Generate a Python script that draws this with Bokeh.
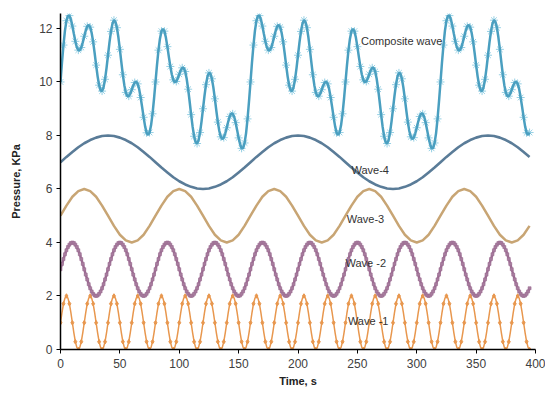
import numpy as np
from bokeh.plotting import figure
from bokeh.models import Range1d, Label, FixedTicker
from bokeh.embed import file_html
from bokeh.resources import INLINE

# ---------------- data ----------------
t_end = 395.0

# Wave-1: one cycle (20 s), sampled every 1.25 s
wave1_step = 1.25
wave1_cycle = [1.0, 1.38, 1.71, 1.92, 2.0, 1.92, 1.71, 1.38,
               1.0, 0.62, 0.29, 0.08, 0.0, 0.08, 0.29, 0.62]

# Wave-2: one cycle (40 s), sampled every 1.25 s
wave2_step = 1.25
wave2_cycle = [3.0, 3.2, 3.38, 3.56, 3.71, 3.83, 3.92, 3.98,
               4.0, 3.98, 3.92, 3.83, 3.71, 3.56, 3.38, 3.2,
               3.0, 2.8, 2.62, 2.44, 2.29, 2.17, 2.08, 2.02,
               2.0, 2.02, 2.08, 2.17, 2.29, 2.44, 2.62, 2.8]

# Wave-3: one cycle (80 s), sampled every 5 s
wave3_step = 5.0
wave3_cycle = [5.0, 5.38, 5.71, 5.92, 6.0, 5.92, 5.71, 5.38,
               5.0, 4.62, 4.29, 4.08, 4.0, 4.08, 4.29, 4.62]

# Wave-4: one cycle (160 s), sampled every 5 s
wave4_step = 5.0
wave4_cycle = [7.0, 7.2, 7.38, 7.56, 7.71, 7.83, 7.92, 7.98,
               8.0, 7.98, 7.92, 7.83, 7.71, 7.56, 7.38, 7.2,
               7.0, 6.8, 6.62, 6.44, 6.29, 6.17, 6.08, 6.02,
               6.0, 6.02, 6.08, 6.17, 6.29, 6.44, 6.62, 6.8]

# Composite wave: one cycle (160 s), sampled every 1.25 s
comp_step = 1.25
comp_cycle = [10.0, 10.73, 11.38, 11.92, 12.29, 12.47, 12.48, 12.34,
              12.09, 11.8, 11.52, 11.3, 11.19, 11.19, 11.29, 11.48,
              11.71, 11.92, 12.08, 12.13, 12.05, 11.83, 11.5, 11.08,
              10.63, 10.21, 9.88, 9.69, 9.66, 9.8, 10.1, 10.52,
              11.0, 11.48, 11.89, 12.18, 12.31, 12.25, 12.03, 11.67,
              11.22, 10.73, 10.27, 9.88, 9.61, 9.48, 9.47, 9.56,
              9.71, 9.87, 9.98, 10.01, 9.93, 9.73, 9.42, 9.06,
              8.68, 8.34, 8.1, 8.02, 8.11, 8.38, 8.81, 9.37,
              10.0, 10.63, 11.19, 11.62, 11.9, 11.98, 11.9, 11.66,
              11.32, 10.94, 10.58, 10.28, 10.08, 9.99, 10.02, 10.14,
              10.29, 10.44, 10.53, 10.52, 10.39, 10.12, 9.73, 9.27,
              8.78, 8.33, 7.97, 7.75, 7.7, 7.82, 8.11, 8.52,
              9.0, 9.48, 9.9, 10.2, 10.34, 10.31, 10.12, 9.79,
              9.37, 8.92, 8.5, 8.17, 7.95, 7.87, 7.92, 8.08,
              8.29, 8.52, 8.71, 8.82, 8.81, 8.7, 8.48, 8.2,
              7.91, 7.67, 7.52, 7.53, 7.72, 8.08, 8.62, 9.28]

x_ticks = [0, 50, 100, 150, 200, 250, 300, 350, 400]
y_ticks = [0, 2, 4, 6, 8, 10, 12]

labels = ["Composite wave", "Wave-4", "Wave-3", "Wave -2", "Wave -1"]
label_x = [253, 245, 241, 240, 242]
label_y = [11.55, 6.7, 4.86, 3.25, 1.05]


def series(step, cycle):
    t = np.arange(0, t_end + 1e-9, step)
    n = len(t)
    reps = n // len(cycle) + 1
    return t, np.array((list(cycle) * reps)[:n])


FONT = "Liberation Sans"

p = figure(width=545, height=396, output_backend="svg", toolbar_location=None,
           x_range=Range1d(0, 400), y_range=Range1d(0, 12.56),
           min_border_left=60, min_border_right=10,
           min_border_top=13, min_border_bottom=47)
p.outline_line_color = None
p.grid.grid_line_color = None
p.background_fill_color = "white"

# Wave-1
t1, y1 = series(wave1_step, wave1_cycle)
p.line(t1, y1, line_color="#E8974E", line_width=1.5)
p.scatter(t1[::2], y1[::2], marker="diamond", size=4.5,
          fill_color="#E8974E", line_color="#E8974E")

# Wave-2
t2, y2 = series(wave2_step, wave2_cycle)
p.line(t2, y2, line_color="#9C6B92", line_width=2.5)
p.scatter(t2, y2, marker="square", size=3, fill_color="#A87E9F",
          line_color="#9C6B92", line_width=0.6)

# Wave-3
t3, y3 = series(wave3_step, wave3_cycle)
p.line(t3, y3, line_color="#C8A574", line_width=2.5)

# Wave-4
t4, y4 = series(wave4_step, wave4_cycle)
p.line(t4, y4, line_color="#5A7C98", line_width=2.6)

# Composite
tc, yc = series(comp_step, comp_cycle)
p.scatter(tc[::2], yc[::2], marker="asterisk", size=8, line_color="#96D0E4", line_width=1)
p.line(tc, yc, line_color="#4A9FC0", line_width=2.5)

for txt, lx, ly in zip(labels, label_x, label_y):
    p.add_layout(Label(x=lx, y=ly, text=txt, text_font=FONT, text_font_size="11px",
                       text_color="#333333", text_baseline="middle", text_align="left"))

for ax in (p.xaxis[0], p.yaxis[0]):
    ax.axis_line_color = "black"
    ax.axis_line_width = 1.5
    ax.major_tick_line_color = "black"
    ax.major_tick_in = 0
    ax.major_tick_out = 4
    ax.minor_tick_line_color = None
    ax.major_label_text_font = FONT
    ax.major_label_text_font_size = "12px"
    ax.major_label_text_color = "#404040"
    ax.axis_label_text_font = FONT
    ax.axis_label_text_font_size = "11px"
    ax.axis_label_text_font_style = "bold"
    ax.axis_label_text_color = "#222222"

p.xaxis[0].ticker = FixedTicker(ticks=x_ticks)
p.yaxis[0].ticker = FixedTicker(ticks=y_ticks)
p.xaxis[0].axis_label = "Time, s"
p.yaxis[0].axis_label = "Pressure, KPa"
p.xaxis[0].major_label_standoff = 5
p.xaxis[0].axis_label_standoff = 4
p.yaxis[0].major_label_standoff = 4
p.yaxis[0].axis_label_standoff = 14

open("out.html", "w").write(file_html(p, INLINE))
